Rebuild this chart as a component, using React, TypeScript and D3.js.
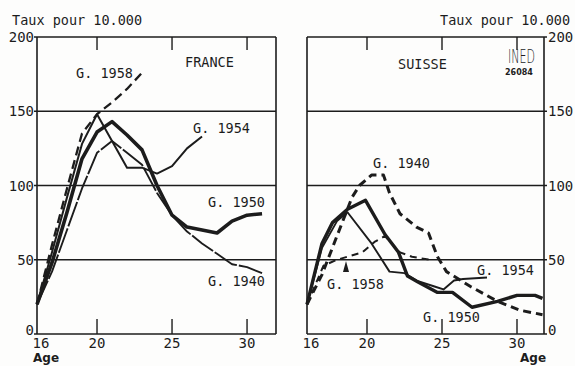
import React from "react";
import * as d3 from "d3";

// ---- Data ----
const yTicks = [0, 50, 100, 150, 200];
const xTicks = [16, 20, 25, 30];
const innerTicks = [20, 25, 30];

// FRANCE
const fr1958Ages = [16, 17, 18, 19, 20, 21, 22, 23.1];
const fr1958 = [20, 60, 98, 135, 148, 156, 165, 177];
const fr1954Ages = [16, 17, 18, 19, 20, 21, 22, 23, 24, 25, 26, 27];
const fr1954 = [20, 55, 92, 128, 148, 130, 112, 112, 108, 113, 125, 133];
const fr1950Ages = [16, 17, 18, 19, 20, 21, 22, 23, 24, 25, 26, 27, 28, 29, 30, 31];
const fr1950 = [20, 48, 82, 118, 136, 143, 134, 124, 100, 80, 72, 70, 68, 76, 80, 81];
const fr1940Ages = [16, 17, 18, 19, 20, 21, 22, 23, 24, 25, 26, 27, 28, 29, 30, 31];
const fr1940 = [20, 42, 70, 98, 122, 130, 122, 114, 95, 80, 69, 61, 54, 47, 45, 41];

// SUISSE
const ch1940Ages = [16, 17, 18, 19, 19.5, 20.3, 21.1, 21.5, 22.2, 23.3, 24.1, 24.7, 25.3, 26.9, 28.7, 30.2, 31.7];
const ch1940 = [20, 40, 66, 92, 100, 107, 107, 95, 81, 72, 68, 52, 42, 32, 22, 16, 13];
const ch1950Ages = [16, 17, 17.7, 18.7, 19.9, 21.2, 22.1, 22.7, 23.4, 24.7, 25.7, 27, 28.7, 30, 31.2, 31.7];
const ch1950 = [20, 61, 75, 84, 90, 67, 55, 39, 35, 28, 28, 18, 22, 26, 26, 24];
const ch1954Ages = [16, 17, 18, 18.7, 20.3, 21.5, 22.5, 23.3, 24.5, 25.1, 25.8, 26.4, 28];
const ch1954 = [20, 58, 76, 82, 61, 42, 41, 36, 32, 30, 36, 37, 38];
const ch1958Ages = [16, 17.1, 18, 19.7, 20.5, 21.2, 22.2, 23, 24.2];
const ch1958 = [20, 46, 50, 55, 62, 66, 55, 52, 50];

const INK = "#1c1c1c";
const FONT = "'DejaVu Sans Mono', 'Liberation Mono', monospace";

const y = d3.scaleLinear().domain([0, 200]).range([334, 37]);
const xL = d3.scaleLinear().domain([16, 31.93]).range([37, 276]);
const xR = d3.scaleLinear().domain([16, 31.8]).range([307, 544]);

type Style = { w: number; dash?: string };

function path(x: d3.ScaleLinear<number, number>, ages: number[], vals: number[]) {
  const pts: [number, number][] = ages.map((a, i) => [a, vals[i]]);
  return d3
    .line<[number, number]>()
    .x((d) => x(d[0]))
    .y((d) => y(d[1]))(pts) as string;
}

function Series({ x, ages, vals, s }: { x: any; ages: number[]; vals: number[]; s: Style }) {
  return (
    <path
      d={path(x, ages, vals)}
      fill="none"
      stroke={INK}
      strokeWidth={s.w}
      strokeDasharray={s.dash}
      strokeLinejoin="round"
      strokeLinecap="butt"
    />
  );
}

function Panel({ x, side }: { x: d3.ScaleLinear<number, number>; side: "L" | "R" }) {
  const [x0, x1] = x.range();
  return (
    <g>
      {yTicks.map((t) => {
        const ext = 3;
        return (
          <line
            key={t}
            x1={side === "L" ? x0 - ext : x0}
            x2={side === "R" ? x1 + ext : x1}
            y1={y(t)}
            y2={y(t)}
            stroke={INK}
            strokeWidth={t === 0 || t === 200 ? 1.6 : 1.3}
          />
        );
      })}
      <line x1={x0} x2={x0} y1={y(200)} y2={y(0)} stroke={INK} strokeWidth={1.6} />
      <line x1={x1} x2={x1} y1={y(200)} y2={y(0)} stroke={INK} strokeWidth={1.6} />
      {innerTicks.map((t) => (
        <g key={t}>
          <line x1={x(t)} x2={x(t)} y1={y(200)} y2={y(200) + 13} stroke={INK} strokeWidth={1.4} />
          <line x1={x(t)} x2={x(t)} y1={y(0)} y2={y(0) - 15} stroke={INK} strokeWidth={1.4} />
        </g>
      ))}
      {xTicks.map((t) => (
        <text
          key={t}
          x={t === 16 ? x(t) + 4 : x(t)}
          y={348}
          textAnchor="middle"
          fontSize={14}
          fontFamily={FONT}
          fill={INK}
        >
          {t}
        </text>
      ))}
      {yTicks.map((t) => (
        <text
          key={t}
          x={side === "L" ? x0 - 3 : x1 + 4}
          y={y(t) + (t === 0 ? 1 : 5)}
          textAnchor={side === "L" ? "end" : "start"}
          fontSize={14}
          fontFamily={FONT}
          fill={INK}
        >
          {t}
        </text>
      ))}
    </g>
  );
}

function Label({ x, yy, text, size = 13.5 }: { x: number; yy: number; text: string; size?: number }) {
  return (
    <text x={x} y={yy} fontSize={size} fontFamily={FONT} fill={INK}>
      {text}
    </text>
  );
}

export default function App() {
  return (
    <svg
      width={575}
      height={366}
      style={{ position: "absolute", left: 0, top: 0, background: "#fdfdfc" }}
    >
      <rect x={0} y={0} width={575} height={366} fill="#fdfdfc" />
      <Panel x={xL} side="L" />
      <Panel x={xR} side="R" />

      {/* France series */}
      <Series x={xL} ages={fr1940Ages} vals={fr1940} s={{ w: 1.9, dash: "26 2" }} />
      <Series x={xL} ages={fr1954Ages} vals={fr1954} s={{ w: 2 }} />
      <Series x={xL} ages={fr1950Ages} vals={fr1950} s={{ w: 3.6 }} />
      <Series x={xL} ages={fr1958Ages} vals={fr1958} s={{ w: 2.3, dash: "9 5" }} />

      {/* Suisse series */}
      <Series x={xR} ages={ch1954Ages} vals={ch1954} s={{ w: 1.9 }} />
      <Series x={xR} ages={ch1950Ages} vals={ch1950} s={{ w: 3.4 }} />
      <Series x={xR} ages={ch1940Ages} vals={ch1940} s={{ w: 3, dash: "8 5" }} />
      <Series x={xR} ages={ch1958Ages} vals={ch1958} s={{ w: 2, dash: "7 5" }} />

      {/* titles */}
      <Label x={12} yy={25} text="Taux pour 10.000" />
      <Label x={440} yy={25} text="Taux pour 10.000" />
      <Label x={185} yy={67} text="FRANCE" />
      <Label x={398} yy={69} text="SUISSE" />

      {/* France labels */}
      <Label x={76} yy={78} text="G. 1958" />
      <Label x={193} yy={133} text="G. 1954" />
      <Label x={208} yy={207} text="G. 1950" />
      <Label x={208} yy={286} text="G. 1940" />

      {/* Suisse labels */}
      <Label x={373} yy={168} text="G. 1940" />
      <Label x={327} yy={289} text="G. 1958" />
      <Label x={477} yy={275} text="G. 1954" />
      <Label x={423} yy={322} text="G. 1950" />
      <path d="M343,272 L346,261 L349,272 Z" fill={INK} />

      {/* INED mark */}
      <text
        x={508}
        y={63}
        fontSize={20}
        fontFamily="'DejaVu Sans', sans-serif"
        fontWeight={300}
        fill={INK}
        transform="translate(508,63) scale(0.55,1) translate(-508,-63)"
      >
        INED
      </text>
      <text x={505} y={75} fontSize={8} fontWeight="bold" fontFamily="'DejaVu Sans', sans-serif" fill={INK}>
        26084
      </text>

      {/* Age labels */}
      <text x={33} y={362} fontSize={12} fontWeight="bold" fontFamily="'DejaVu Sans', sans-serif" fill={INK}>
        Age
      </text>
      <text x={520} y={362} fontSize={12} fontWeight="bold" fontFamily="'DejaVu Sans', sans-serif" fill={INK}>
        Age
      </text>
    </svg>
  );
}
